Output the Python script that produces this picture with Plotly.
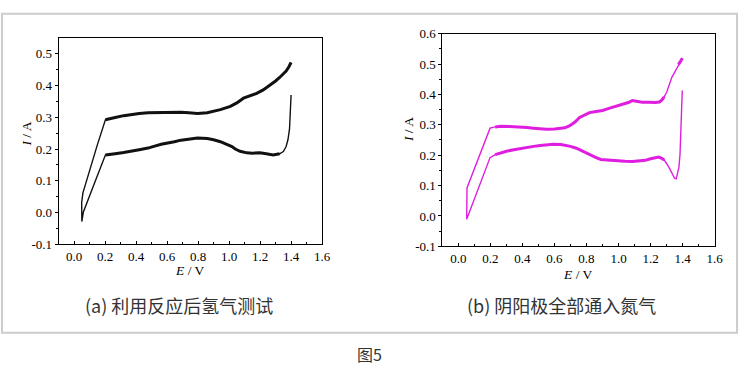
import numpy as np
import plotly.graph_objects as go

# ---------------- data ----------------
# Panel (a): hydrogen after reaction
a_lower_E = [1.400, 1.395, 1.390, 1.380, 1.368, 1.350, 1.326, 1.284, 1.240, 1.199, 1.150, 1.114, 1.071, 1.040, 1.018,
             0.980, 0.944, 0.900, 0.859, 0.796, 0.732, 0.690, 0.647, 0.600, 0.562, 0.520, 0.477, 0.420, 0.371, 0.320,
             0.265, 0.230, 0.202, 0.150, 0.100, 0.060, 0.050]
a_lower_I = [0.370, 0.320, 0.264, 0.230, 0.208, 0.192, 0.185, 0.181, 0.185, 0.188, 0.187, 0.188, 0.193, 0.200, 0.208,
             0.216, 0.223, 0.229, 0.233, 0.235, 0.232, 0.228, 0.223, 0.219, 0.215, 0.209, 0.203, 0.198, 0.193, 0.189,
             0.185, 0.183, 0.181, 0.116, 0.052, 0.002, -0.028]
a_upper_E = [0.050, 0.049, 0.057, 0.100, 0.150, 0.202, 0.230, 0.265, 0.320, 0.371, 0.420, 0.477, 0.530, 0.584, 0.640,
             0.689, 0.740, 0.796, 0.859, 0.900, 0.944, 1.008, 1.050, 1.093, 1.140, 1.178, 1.220, 1.262, 1.300, 1.326,
             1.350, 1.368, 1.385, 1.400]
a_upper_I = [-0.028, 0.032, 0.062, 0.134, 0.213, 0.292, 0.296, 0.299, 0.305, 0.309, 0.312, 0.314, 0.315, 0.316, 0.316,
             0.316, 0.314, 0.312, 0.314, 0.318, 0.324, 0.334, 0.345, 0.360, 0.368, 0.375, 0.386, 0.400, 0.414, 0.425,
             0.436, 0.445, 0.458, 0.472]

# Panel (b): nitrogen fed to both electrodes
b_lower_E = [1.398, 1.395, 1.390, 1.384, 1.377, 1.370, 1.360, 1.350, 1.337, 1.320, 1.302, 1.285, 1.271, 1.250, 1.230,
             1.200, 1.168, 1.130, 1.086, 1.040, 1.004, 0.960, 0.922, 0.890, 0.860, 0.830, 0.798, 0.770, 0.737, 0.700,
             0.675, 0.640, 0.593, 0.550, 0.511, 0.470, 0.428, 0.390, 0.346, 0.300, 0.264, 0.230, 0.198, 0.150, 0.100,
             0.052]
b_lower_I = [0.413, 0.360, 0.308, 0.203, 0.160, 0.139, 0.122, 0.124, 0.139, 0.155, 0.171, 0.184, 0.190, 0.194, 0.192,
             0.188, 0.183, 0.180, 0.179, 0.180, 0.181, 0.182, 0.183, 0.186, 0.192, 0.200, 0.208, 0.215, 0.223, 0.229,
             0.232, 0.235, 0.236, 0.235, 0.232, 0.229, 0.226, 0.222, 0.218, 0.213, 0.208, 0.202, 0.192, 0.124, 0.056,
             -0.011]
b_upper_E = [0.052, 0.054, 0.100, 0.150, 0.198, 0.230, 0.264, 0.320, 0.387, 0.430, 0.469, 0.510, 0.551, 0.600, 0.634,
             0.665, 0.696, 0.730, 0.757, 0.790, 0.819, 0.860, 0.901, 0.940, 0.983, 1.030, 1.066, 1.086, 1.110, 1.148,
             1.190, 1.230, 1.255, 1.271, 1.285, 1.300, 1.333, 1.355, 1.374, 1.390, 1.399]
b_upper_I = [-0.011, 0.092, 0.155, 0.222, 0.289, 0.293, 0.295, 0.294, 0.293, 0.291, 0.289, 0.287, 0.285, 0.286, 0.287,
             0.290, 0.297, 0.310, 0.324, 0.333, 0.340, 0.344, 0.347, 0.354, 0.361, 0.368, 0.374, 0.380, 0.378, 0.374,
             0.374, 0.373, 0.375, 0.382, 0.392, 0.406, 0.456, 0.478, 0.498, 0.510, 0.519]

x_tickvals = [0.0, 0.2, 0.4, 0.6, 0.8, 1.0, 1.2, 1.4, 1.6]
x_ticktext = ["0.0", "0.2", "0.4", "0.6", "0.8", "1.0", "1.2", "1.4", "1.6"]
ya_tickvals = [-0.1, 0.0, 0.1, 0.2, 0.3, 0.4, 0.5]
ya_ticktext = ["-0.1", "0.0", "0.1", "0.2", "0.3", "0.4", "0.5"]
yb_tickvals = [-0.1, 0.0, 0.1, 0.2, 0.3, 0.4, 0.5, 0.6]
yb_ticktext = ["-0.1", "0.0", "0.1", "0.2", "0.3", "0.4", "0.5", "0.6"]

caption_a = "(a) 利用反应后氢气测试"
caption_b = "(b) 阴阳极全部通入氮气"
figure_title = "图5"

color_a = "#111111"
color_b = "#e01ee0"

W, H = 750, 387
SERIF = "Liberation Serif, Times New Roman, serif"
CJK = "Noto Sans CJK SC, Noto Sans, sans-serif"


def px_x(p):
    return p / W


def px_y(p):
    return 1 - p / H


def loop(lE, lI, uE, uI):
    return list(lE) + list(uE), list(lI) + list(uI)


def noisy(E, I, lo, hi):
    E = np.array(E)
    I = np.array(I)
    m = (E >= lo) & (E <= hi)
    return E[m], I[m]


fig = go.Figure()

# panel (a)
xa, ya = loop(a_lower_E, a_lower_I, a_upper_E, a_upper_I)
fig.add_trace(go.Scatter(x=xa, y=ya, mode="lines", line=dict(color=color_a, width=1.4),
                         xaxis="x", yaxis="y", showlegend=False, hoverinfo="skip"))
for E, I, lo, hi in [(a_lower_E, a_lower_I, 0.2, 1.33), (a_upper_E, a_upper_I, 0.2, 1.41)]:
    e, i = noisy(E, I, lo, hi)
    fig.add_trace(go.Scatter(x=e, y=i, mode="lines", line=dict(color=color_a, width=3.0),
                             xaxis="x", yaxis="y", showlegend=False, hoverinfo="skip"))

# panel (b)
xb, yb = loop(b_lower_E, b_lower_I, b_upper_E, b_upper_I)
fig.add_trace(go.Scatter(x=xb, y=yb, mode="lines", line=dict(color=color_b, width=1.4),
                         xaxis="x2", yaxis="y2", showlegend=False, hoverinfo="skip"))
for E, I, lo, hi in [(b_lower_E, b_lower_I, 0.2, 1.3), (b_upper_E, b_upper_I, 0.2, 1.29),
                     (b_upper_E, b_upper_I, 1.37, 1.41)]:
    e, i = noisy(E, I, lo, hi)
    fig.add_trace(go.Scatter(x=e, y=i, mode="lines", line=dict(color=color_b, width=3.0),
                             xaxis="x2", yaxis="y2", showlegend=False, hoverinfo="skip"))

tickfont = dict(family=SERIF, size=13, color="black")


def xaxis(domain, anchor):
    return dict(domain=domain, anchor=anchor, range=[-0.1, 1.6], showline=True, mirror=True,
                linecolor="black", linewidth=1, ticks="inside", ticklen=3, tickcolor="black",
                tickvals=x_tickvals, ticktext=x_ticktext, tickfont=tickfont, showgrid=False,
                zeroline=False, minor=dict(tickvals=[v + 0.1 for v in x_tickvals[:-1]] + [-0.1],
                                           ticks="inside", ticklen=2, tickcolor="black"))


def yaxis(domain, anchor, rng, tv, tt):
    minor_vals = [v + 0.05 for v in tv[:-1]]
    return dict(domain=domain, anchor=anchor, range=rng, showline=True, mirror=True,
                linecolor="black", linewidth=1, ticks="outside", ticklen=3, tickcolor="black",
                tickvals=tv, ticktext=tt, tickfont=tickfont, showgrid=False, zeroline=False,
                minor=dict(tickvals=minor_vals, ticks="outside", ticklen=2, tickcolor="black"))


fig.update_layout(
    width=W, height=H, margin=dict(l=0, r=0, t=0, b=0),
    paper_bgcolor="white", plot_bgcolor="white",
    xaxis=xaxis([px_x(59.3), px_x(326)], "y"),
    yaxis=yaxis([px_y(247), px_y(32)], "x", [-0.1, 0.55], ya_tickvals, ya_ticktext),
    xaxis2=xaxis([px_x(447.7), px_x(723.3)], "y2"),
    yaxis2=yaxis([px_y(249), px_y(27.7)], "x2", [-0.1, 0.6], yb_tickvals, yb_ticktext),
)

# outer light-grey frame
fig.add_shape(type="rect", xref="paper", yref="paper",
              x0=px_x(2), x1=px_x(746), y0=px_y(339), y1=px_y(7),
              line=dict(color="#cccccc", width=2), fillcolor="rgba(0,0,0,0)", layer="below")

ann = []
labfont = dict(family=SERIF, size=13.5, color="black")
ann.append(dict(x=px_x(192), y=px_y(274), text="<i>E</i> / V", font=labfont))
ann.append(dict(x=px_x(585), y=px_y(278), text="<i>E</i> / V", font=labfont))
ann.append(dict(x=px_x(27), y=px_y(132), text="<i>I</i> / A", font=labfont, textangle=-90))
ann.append(dict(x=px_x(413), y=px_y(128), text="<i>I</i> / A", font=labfont, textangle=-90))
capfont = dict(family=CJK, size=18, color="#333333")
ann.append(dict(x=px_x(181), y=px_y(310), text=caption_a, font=capfont))
ann.append(dict(x=px_x(568), y=px_y(310), text=caption_b, font=capfont))
ann.append(dict(x=px_x(374), y=px_y(361), text=figure_title, font=dict(family=CJK, size=16, color="#333333")))
for a in ann:
    a.update(xref="paper", yref="paper", showarrow=False, xanchor="center", yanchor="middle")
fig.update_layout(annotations=ann)

# remove the browser's default 8px body margin so the figure sits at the page origin
fig.write_html("out.html", config={"displayModeBar": False},
               post_script="document.body.style.margin='0px';")
